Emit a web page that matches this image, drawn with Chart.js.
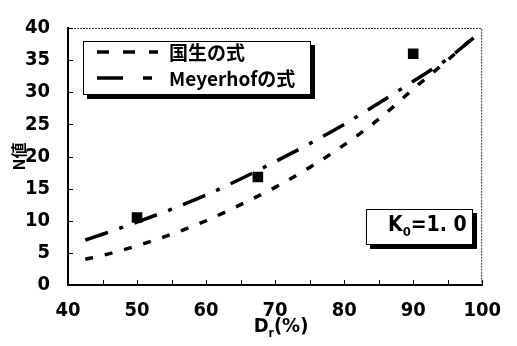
<!DOCTYPE html>
<html>
<head>
<meta charset="utf-8">
<script src="https://cdn.jsdelivr.net/npm/chart.js@4.4.1/dist/chart.umd.min.js"></script>
<style>
	html, body { margin: 0; padding: 0; background: #fff; }
	#wrap { position: relative; width: 517px; height: 346px; }
</style>
</head>
<body>
<div id="wrap"><canvas id="c" width="517" height="346"></canvas></div>
<script>
// values
const kokushoDr = [42.5, 45, 50, 55, 60, 65, 70, 75, 80, 85, 90, 95, 99];
const kokushoN = [4, 4.6, 6.1, 7.9, 10, 12.5, 15.2, 18.3, 21.8, 25.8, 30.5, 35, 38.8];
const meyerhofDr = [42.5, 45, 50, 55, 60, 65, 70, 75, 80, 85, 90, 95, 99];
const meyerhofN = [7, 7.9, 9.8, 11.8, 14, 16.5, 19.2, 22, 25, 28.3, 31.7, 35.2, 38.7];
const obsDr = [50, 67.5, 90];
const obsN = [10.5, 16.8, 36];
const seriesLabels = ["国生の式", "Meyerhofの式"];
const xTitle = ["D", "r", "(%)"];
const yTitle = "N値";
const noteText = ["K", "0", "=1. 0"];

const NARROW = "'DejaVu Sans Condensed', 'DejaVu Sans', sans-serif";
const CJK = "'Noto Sans CJK JP', 'Noto Sans', sans-serif";

const pts = (xs, ys) => xs.map((x, i) => ({ x: x, y: ys[i] }));

// frame, inward ticks, legend box, K0 note and x title
const decor = {
	id: "decor",
	afterDraw(chart) {
		const ctx = chart.ctx;
		const a = chart.chartArea;
		const xs = chart.scales.x;
		const ys = chart.scales.y;
		ctx.save();

		ctx.strokeStyle = "#333";
		ctx.lineWidth = 1;
		ctx.setLineDash([2, 1]);
		ctx.beginPath();
		ctx.moveTo(a.left, a.top + 0.5);
		ctx.lineTo(a.right - 0.5, a.top + 0.5);
		ctx.lineTo(a.right - 0.5, a.bottom);
		ctx.stroke();
		ctx.setLineDash([]);

		ctx.strokeStyle = "#000";
		ctx.lineWidth = 1;
		ctx.beginPath();
		xs.ticks.forEach((t) => {
			const px = Math.round(xs.getPixelForValue(t.value)) + 0.5;
			ctx.moveTo(px, a.bottom);
			ctx.lineTo(px, a.bottom - 5);
		});
		ys.ticks.forEach((t) => {
			const py = Math.round(ys.getPixelForValue(t.value)) + 0.5;
			ctx.moveTo(a.left, py);
			ctx.lineTo(a.left + 5, py);
		});
		ctx.stroke();

		// boxes with a drop shadow
		const box = (l, t, r, b) => {
			ctx.fillStyle = "#000";
			ctx.fillRect(l + 4, t + 4, r - l, b - t);
			ctx.fillStyle = "#fff";
			ctx.fillRect(l, t, r - l, b - t);
			ctx.strokeStyle = "#000";
			ctx.lineWidth = 1;
			ctx.strokeRect(l + 0.5, t + 0.5, r - l - 1, b - t - 1);
		};
		box(83, 41, 311, 95);
		ctx.strokeStyle = "#000";
		ctx.lineWidth = 3.5;
		ctx.setLineDash([12, 14]);
		ctx.beginPath();
		ctx.moveTo(97, 52);
		ctx.lineTo(158, 52);
		ctx.stroke();
		ctx.setLineDash([26, 20, 9, 20]);
		ctx.beginPath();
		ctx.moveTo(97, 78);
		ctx.lineTo(153, 78);
		ctx.stroke();
		ctx.setLineDash([]);
		ctx.fillStyle = "#000";
		ctx.textBaseline = "middle";
		ctx.textAlign = "left";
		ctx.font = "bold 19px " + CJK;
		ctx.fillText(seriesLabels[0], 169, 53);
		ctx.fillText(seriesLabels[1], 169, 79);

		// K0 note
		box(366, 209, 473, 245);
		ctx.fillStyle = "#000";
		ctx.font = "bold 21px " + NARROW;
		let x = 388;
		ctx.fillText(noteText[0], x, 226);
		x += ctx.measureText(noteText[0]).width;
		ctx.font = "bold 13px " + NARROW;
		ctx.fillText(noteText[1], x, 233);
		x += ctx.measureText(noteText[1]).width;
		ctx.font = "bold 21px " + NARROW;
		ctx.fillText(noteText[2], x, 226);

		// x title with subscript
		ctx.font = "bold 20px " + NARROW;
		const w0 = ctx.measureText(xTitle[0]).width;
		const w2 = ctx.measureText(xTitle[2]).width;
		ctx.font = "bold 12px " + NARROW;
		const w1 = ctx.measureText(xTitle[1]).width;
		x = 281 - (w0 + w1 + w2) / 2;
		ctx.font = "bold 20px " + NARROW;
		ctx.fillText(xTitle[0], x, 327);
		ctx.font = "bold 12px " + NARROW;
		ctx.fillText(xTitle[1], x + w0, 334);
		ctx.font = "bold 20px " + NARROW;
		ctx.fillText(xTitle[2], x + w0 + w1, 327);

		ctx.restore();
	},
};

new Chart(document.getElementById("c"), {
	type: "scatter",
	data: {
		datasets: [
			{
				label: seriesLabels[0],
				data: pts(kokushoDr, kokushoN),
				showLine: true,
				borderColor: "#000",
				borderWidth: 3.5,
				borderDash: [8, 12],
				pointRadius: 0,
				cubicInterpolationMode: "monotone",
			},
			{
				label: seriesLabels[1],
				data: pts(meyerhofDr, meyerhofN),
				showLine: true,
				borderColor: "#000",
				borderWidth: 3.5,
				borderDash: [24, 12, 4, 12],
				pointRadius: 0,
				cubicInterpolationMode: "monotone",
			},
			{
				label: "observed",
				data: pts(obsDr, obsN),
				pointStyle: "rect",
				pointRadius: 7.5,
				backgroundColor: "#000",
				borderColor: "#000",
				borderWidth: 0,
			},
		],
	},
	options: {
		responsive: false,
		animation: false,
		layout: { padding: { left: 0, right: 20, top: 11, bottom: 0 } },
		plugins: { legend: { display: false }, tooltip: { enabled: false } },
		scales: {
			x: {
				type: "linear",
				min: 40,
				max: 100,
				grid: { display: false, drawTicks: false },
				border: { display: true, color: "#000", width: 2 },
				ticks: {
					stepSize: 5,
					color: "#000",
					padding: 16,
					maxRotation: 0,
					autoSkip: false,
					font: { family: NARROW, size: 20, weight: "bold", lineHeight: 1 },
					callback: (v) => (v % 10 === 0 ? v : ""),
				},
				afterFit(scale) {
					scale.height = 61;
				},
			},
			y: {
				min: 0,
				max: 40,
				grid: { display: false, drawTicks: false },
				border: { display: true, color: "#000", width: 2 },
				ticks: {
					stepSize: 5,
					color: "#000",
					padding: 18,
					font: { family: NARROW, size: 20, weight: "bold", lineHeight: 1 },
				},
				title: {
					display: true,
					text: yTitle,
					color: "#000",
					padding: { top: 9, bottom: 0 },
					font: { family: CJK, size: 16, weight: "bold", lineHeight: 1.2 },
				},
				afterFit(scale) {
					scale.width = 68;
				},
			},
		},
	},
	plugins: [decor],
});
</script>
</body>
</html>
